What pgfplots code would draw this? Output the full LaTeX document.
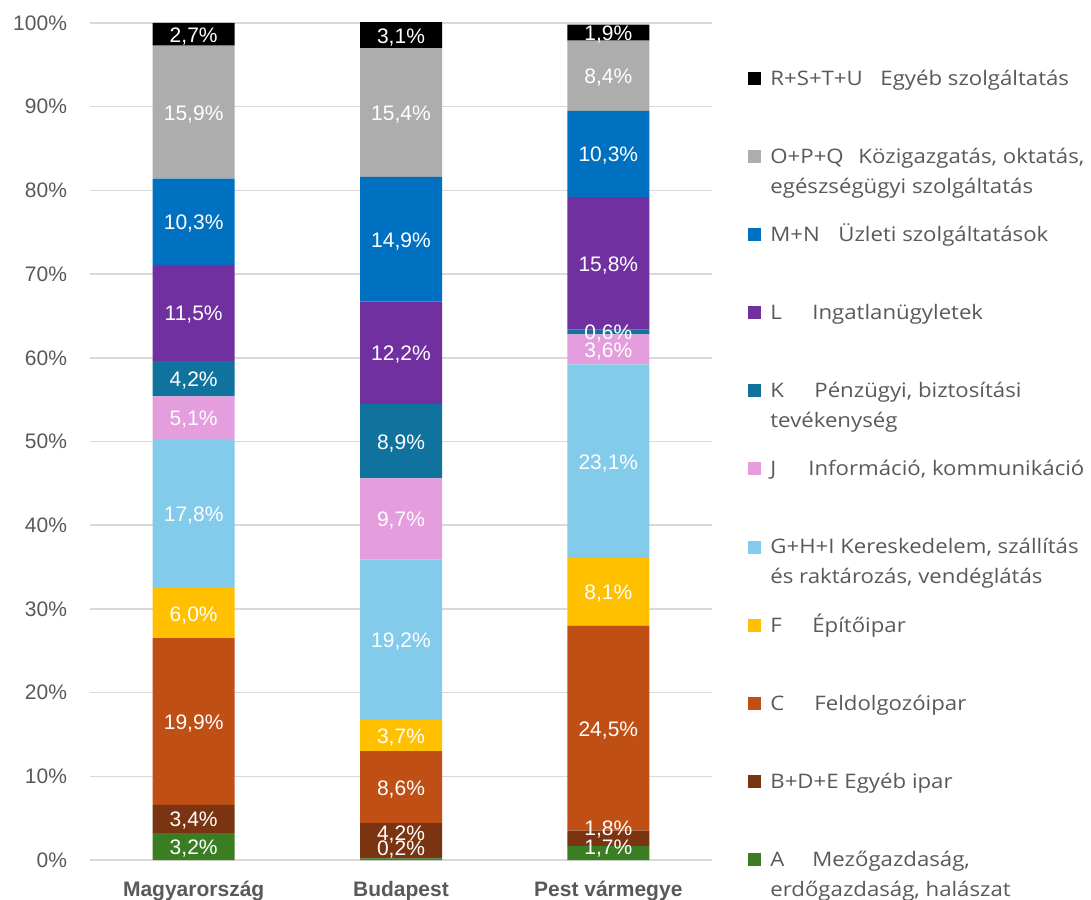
\documentclass[border=0pt]{standalone}
\usepackage{pgfplots}
\pgfplotsset{compat=1.18}
\usepackage{pgfplotstable}
\usepackage{fontspec}
\setmainfont{Liberation Sans}
\newfontfamily\legfont[FakeStretch=1.11]{Open Sans}
\definecolor{cA}{HTML}{3B7D23}
\definecolor{cB}{HTML}{7B3411}
\definecolor{cC}{HTML}{C04F15}
\definecolor{cF}{HTML}{FFC000}
\definecolor{cG}{HTML}{83CBEB}
\definecolor{cJ}{HTML}{E49EDD}
\definecolor{cK}{HTML}{10739E}
\definecolor{cL}{HTML}{7030A0}
\definecolor{cM}{HTML}{0070C0}
\definecolor{cO}{HTML}{ADADAD}
\definecolor{cR}{HTML}{000000}
\definecolor{tickgray}{HTML}{595959}
\definecolor{gridgray}{HTML}{D9D9D9}
\pgfplotstableread{
x A BDE C F GHI J K L MN OPQ RSTU sA sB
0 3.2 3.4 19.9 6.0 17.8 5.1 4.2 11.5 10.3 15.9 2.7 0 0
1 0.2 4.2 8.6 3.7 19.2 9.7 8.9 12.2 14.9 15.4 3.1 6 4
2 1.7 1.8 24.5 8.1 23.1 3.6 0.6 15.8 10.3 8.4 1.9 3 5.5
}\data
\pgfplotsset{
  calc dy/.code={%
    \pgfkeys{/pgf/fpu=true,/pgf/fpu/output format=fixed}%
    \pgfmathsetmacro\dy{\dyraw}%
    \pgfkeys{/pgf/fpu=false}%
  },
}
\begin{document}
\begin{tikzpicture}
\useasboundingbox (0,0) rectangle (545.5pt,449.5pt);
\begin{axis}[
  at={(45pt,19.5pt)}, anchor=south west,
  scale only axis, width=311pt, height=418.5pt,
  ybar stacked, bar width=41pt,
  xmin=-0.5, xmax=2.5, ymin=0, ymax=100,
  clip=false,
  xtick={0,1,2}, xticklabels={Magyarország,Budapest,Pest vármegye},
  xticklabel style={font=\bfseries\fontsize{10.5}{12}\selectfont, text=tickgray, yshift=-7pt},
  ytick={0,10,...,100},
  yticklabel={\pgfmathprintnumber{\tick}\%},
  yticklabel style={font=\fontsize{10.5}{12}\selectfont, text=tickgray, xshift=-8pt},
  ymajorgrids, grid style={gridgray, line width=0.75pt},
  axis line style={draw=none}, major tick length=0pt,
  /pgf/number format/assume math mode=true,
  point meta=explicit,
  nodes near coords={\pgfmathprintnumber[fixed,fixed zerofill,precision=1,use comma]{\pgfplotspointmeta}\%},
  every node near coord/.append style={font=\fontsize{10.5}{12}\selectfont, text=white, anchor=center, inner sep=0pt, yshift=-1pt},
  reverse legend,
  legend cell align=left,
  legend image code/.code={\fill[#1] (0pt,11.75pt) rectangle (6.5pt,18.25pt); \path (11pt,15pt);},
  legend style={at={(1,1)}, anchor=north west, xshift=18pt, yshift=-23pt, draw=none, fill=none, inner sep=0pt, row sep=0pt,
    nodes={inner sep=0pt, text=tickgray, font=\legfont\fontsize{10}{15}\selectfont, text height=8pt, text depth=31.05pt}},
]
\addplot[fill=cA, draw=none, visualization depends on={\thisrow{sA} \as \dyraw},
  every node near coord/.append style={/pgfplots/calc dy, yshift=\dy pt}] table[x=x, y=A, meta=A] {\data};
\addlegendentry{\parbox[t]{165pt}{\makebox[21pt][l]{A}Mezőgazdaság,\\erdőgazdaság, halászat}}
\addplot[fill=cB, draw=none, visualization depends on={\thisrow{sB} \as \dyraw},
  every node near coord/.append style={/pgfplots/calc dy, yshift=\dy pt}] table[x=x, y=BDE, meta=BDE] {\data};
\addlegendentry{\parbox[t]{165pt}{B+D+E Egyéb ipar}}
\addplot[fill=cC, draw=none] table[x=x, y=C, meta=C] {\data};
\addlegendentry{\parbox[t]{165pt}{\makebox[22pt][l]{C}Feldolgozóipar}}
\addplot[fill=cF, draw=none] table[x=x, y=F, meta=F] {\data};
\addlegendentry{\parbox[t]{165pt}{\makebox[21pt][l]{F}Építőipar}}
\addplot[fill=cG, draw=none] table[x=x, y=GHI, meta=GHI] {\data};
\addlegendentry{\parbox[t]{165pt}{G+H+I Kereskedelem, szállítás\\és raktározás, vendéglátás}}
\addplot[fill=cJ, draw=none] table[x=x, y=J, meta=J] {\data};
\addlegendentry{\parbox[t]{165pt}{\makebox[19pt][l]{J}Információ, kommunikáció}}
\addplot[fill=cK, draw=none] table[x=x, y=K, meta=K] {\data};
\addlegendentry{\parbox[t]{165pt}{\makebox[22pt][l]{K}Pénzügyi, biztosítási\\tevékenység}}
\addplot[fill=cL, draw=none] table[x=x, y=L, meta=L] {\data};
\addlegendentry{\parbox[t]{165pt}{\makebox[21pt][l]{L}Ingatlanügyletek}}
\addplot[fill=cM, draw=none] table[x=x, y=MN, meta=MN] {\data};
\addlegendentry{\parbox[t]{165pt}{\makebox[34pt][l]{M+N}Üzleti szolgáltatások}}
\addplot[fill=cO, draw=none] table[x=x, y=OPQ, meta=OPQ] {\data};
\addlegendentry{\parbox[t]{165pt}{\makebox[44pt][l]{O+P+Q}Közigazgatás, oktatás,\\egészségügyi szolgáltatás}}
\addplot[fill=cR, draw=none] table[x=x, y=RSTU, meta=RSTU] {\data};
\addlegendentry{\parbox[t]{165pt}{\makebox[55pt][l]{R+S+T+U}Egyéb szolgáltatás}}
\end{axis}
\end{tikzpicture}
\end{document}
